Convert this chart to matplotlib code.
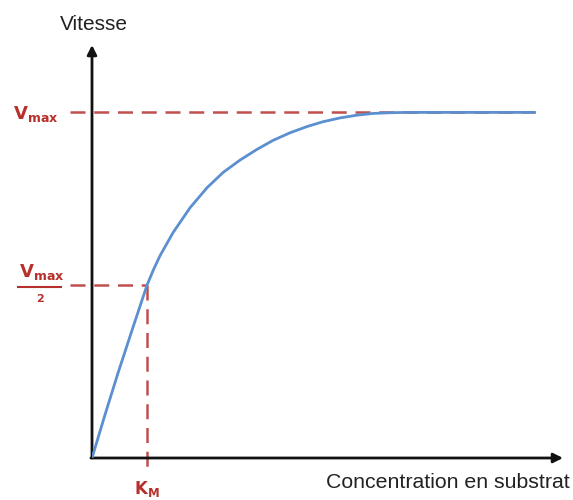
import matplotlib.pyplot as plt
from matplotlib.lines import Line2D

plt.rcParams['font.family'] = ['Liberation Sans', 'DejaVu Sans']

# concentration (unit = Km) and speed (unit = Vmax)
conc = [0, 0.236, 0.473, 0.745, 1.0, 1.118, 1.236, 1.473, 1.782, 2.091, 2.382, 2.691, 3.0,
        3.291, 3.6, 3.909, 4.2, 4.509, 4.818, 5.109, 5.418, 5.727, 6.2, 8.05]
speed = [0, 0.125, 0.246, 0.378, 0.5, 0.545, 0.585, 0.652, 0.724, 0.782, 0.826, 0.862, 0.893,
         0.919, 0.941, 0.959, 0.973, 0.984, 0.992, 0.997, 0.999, 1.0, 1.0, 1.0]
vmax = 1.0
km = 1.0

red = "#c0504d"
label_red = "#b7312c"
blue = "#5b8fd0"

fig = plt.figure(figsize=(5.73, 5.0), dpi=100)
ax = fig.add_axes([92 / 573, 42 / 500, (563 - 92) / 573, (458 - 45) / 500])
ax.set_xlim(0, (563 - 92) / 55)
ax.set_ylim(0, (458 - 45) / 345.6)
ax.axis("off")

# axes with arrows
ax.annotate("", xy=(0, ax.get_ylim()[1]), xytext=(0, 0),
            arrowprops=dict(arrowstyle="-|>", color="#111111", lw=2, mutation_scale=14,
                            shrinkA=0, shrinkB=0), annotation_clip=False)
ax.annotate("", xy=(ax.get_xlim()[1], 0), xytext=(-0.02, 0),
            arrowprops=dict(arrowstyle="-|>", color="#111111", lw=2, mutation_scale=14,
                            shrinkA=0, shrinkB=0), annotation_clip=False)

# dashed guides
ax.plot([-0.4, 8.05], [vmax, vmax], color=red, lw=1.8, dashes=(6, 3.5), clip_on=False)
ax.plot([-0.4, km], [vmax / 2, vmax / 2], color=red, lw=1.8, dashes=(6, 3.5), clip_on=False)
ax.plot([km, km], [vmax / 2, -0.035], color=red, lw=1.8, dashes=(6, 3.5), clip_on=False)

# curve
ax.plot(conc, speed, color=blue, lw=2, solid_capstyle="round", solid_joinstyle="round",
        zorder=3)

# labels
fig.text(94 / 573, 1 - 25 / 500, "Vitesse", ha="center", va="center", fontsize=15, color="#222222")
fig.text(570 / 573, 1 - 482 / 500, "Concentration en substrat", ha="right", va="center",
         fontsize=15.3, color="#222222")
fig.text(13 / 573, 1 - 114 / 500, r"$\mathbf{V}_{\mathbf{max}}$", ha="left", va="center",
         fontsize=13, color=label_red)
fig.text(19 / 573, 1 - 272 / 500, r"$\mathbf{V}_{\mathbf{max}}$", ha="left", va="center",
         fontsize=13, color=label_red)
fig.add_artist(Line2D([18 / 573, 61 / 573], [1 - 287 / 500, 1 - 287 / 500],
                      color=label_red, lw=1.5))
fig.text(40 / 573, 1 - 298 / 500, r"$\mathbf{2}$", ha="center", va="center",
         fontsize=8, color=label_red)
fig.text(147 / 573, 1 - 489 / 500, r"$\mathbf{K}_{\mathbf{M}}$", ha="center", va="center",
         fontsize=12, color=label_red)

fig.savefig("out.png", dpi=100, facecolor="white")
